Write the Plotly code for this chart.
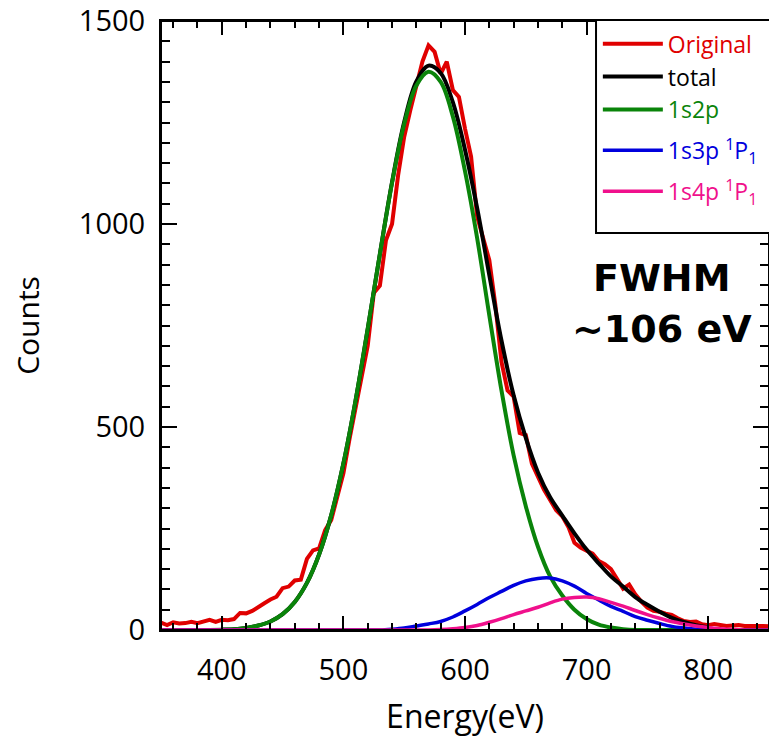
import plotly.graph_objects as go

# ---------------- data ----------------
energy_fine = list(range(350, 851, 5))
original = [18, 12, 19, 16, 17, 20, 17, 22, 25, 20,
            25, 24, 27, 42, 41, 47, 58, 66, 75, 82,
            103, 107, 122, 124, 175, 196, 201, 246, 271, 330,
            386, 470, 545, 625, 700, 830, 848, 960, 1000, 1120,
            1215, 1280, 1345, 1400, 1440, 1424, 1370, 1400, 1330, 1313,
            1235, 1166, 1018, 960, 911, 800, 660, 590, 575, 485,
            480, 410, 375, 345, 320, 295, 280, 254, 215, 203,
            195, 188, 170, 162, 150, 125, 102, 112, 88, 70,
            55, 47, 45, 40, 37, 29, 22, 20, 21, 14,
            12, 15, 13, 10, 11, 12, 10, 9, 10, 10, 9]

energy = list(range(350, 851, 10))
comp_1s2p = [0, 0, 0, 0, 0, 0.5, 2, 5, 11, 21,
             39, 69, 116, 186, 283, 410, 565, 742, 926, 1101,
             1246, 1341, 1375, 1350, 1265, 1130, 965, 775, 590, 430,
             305, 205, 132, 85, 50, 27, 13, 6, 2, 0,
             0, 0, 0, 0, 0, 0, 0, 0, 0, 0, 0]
comp_1s3p = [0, 0, 0, 0, 0, 0, 0, 0, 0, 0,
             0, 0, 0, 0, 0, 0, 0, 0, 0, 2,
             5, 10, 15, 21, 32, 47, 63, 80, 95, 110,
             121, 127, 128, 121, 108, 90, 74, 58, 46, 33,
             24, 16, 9, 5, 2, 1, 0, 0, 0, 0, 0]
comp_1s4p = [0, 0, 0, 0, 0, 0, 0, 0, 0, 0,
             0, 0, 0, 0, 0, 0, 0, 0, 0, 0,
             0, 0, 0, 1, 3, 6, 11, 19, 28, 38,
             47, 56, 67, 76, 80, 81, 77, 68, 59, 48,
             38, 29, 21, 15, 10, 6, 3, 1, 0, 0, 0]

energy_total = list(range(400, 801, 10))
total = [1, 2, 5, 11, 21, 39, 69, 116, 186, 283,
         410, 565, 742, 926, 1103, 1251, 1351, 1390, 1372, 1300,
         1183, 1039, 874, 713, 578, 473, 388, 327, 282, 238,
         198, 164, 132, 107, 81, 62, 45, 30, 20, 12, 7]

x_ticks = [400, 500, 600, 700, 800]
y_ticks = [0, 500, 1000, 1500]

FONT = "Open Sans"
BOLD_FONT = "DejaVu Sans"
C_RED, C_BLACK, C_GREEN, C_BLUE, C_PINK = "#e00000", "#000000", "#0a840a", "#0000dd", "#f0108c"


def lab(text, col):
    return f'<span style="color:{col}">{text}</span>'


fig = go.Figure()
fig.add_trace(go.Scatter(x=energy_fine, y=original, mode="lines",
                         line=dict(color=C_RED, width=4), legendgroup="a",
                         name=lab("Original", C_RED)))
fig.add_trace(go.Scatter(x=energy_total, y=total, mode="lines",
                         line=dict(color=C_BLACK, width=4, shape="spline"), legendgroup="a",
                         name=lab("total", C_BLACK)))
fig.add_trace(go.Scatter(x=energy, y=comp_1s2p, mode="lines",
                         line=dict(color=C_GREEN, width=4, shape="spline"), legendgroup="a",
                         name=lab("1s2p", C_GREEN)))
fig.add_trace(go.Scatter(x=energy, y=comp_1s3p, mode="lines",
                         line=dict(color=C_BLUE, width=3.5, shape="spline"), legendgroup="b",
                         name=lab("1s3p <sup>1</sup>P<sub>1</sub>", C_BLUE)))
fig.add_trace(go.Scatter(x=energy, y=comp_1s4p, mode="lines",
                         line=dict(color=C_PINK, width=3.5, shape="spline"), legendgroup="c",
                         name=lab("1s4p <sup>1</sup>P<sub>1</sub>", C_PINK)))

axis_common = dict(showline=True, linecolor="black", linewidth=2, mirror="ticks",
                   ticks="inside", tickcolor="black", tickwidth=2,
                   showgrid=False, zeroline=False, automargin=False,
                   ticklabeloverflow="allow",
                   tickfont=dict(family=FONT, size=29, color="black"))

fig.update_xaxes(range=[350, 850], tickvals=x_ticks, ticklen=14,
                 minor=dict(dtick=20, ticks="inside", ticklen=7, tickcolor="black", tickwidth=2),
                 ticklabelstandoff=13,
                 title=dict(text="Energy(eV)", font=dict(family=FONT, size=32, color="black"), standoff=19),
                 **axis_common)
fig.update_yaxes(range=[0, 1500], tickvals=y_ticks, ticklen=16,
                 minor=dict(dtick=50, ticks="inside", ticklen=9, tickcolor="black", tickwidth=2),
                 ticklabelstandoff=8,
                 title=dict(text="Counts", font=dict(family=FONT, size=30, color="black"), standoff=30),
                 **axis_common)

fig.add_annotation(x=762, y=867, xref="x", yref="y", text="<b>FWHM</b>", showarrow=False,
                   font=dict(family=BOLD_FONT, size=38, color="black"))
fig.add_annotation(x=762, y=741, xref="x", yref="y", text="<b>~106 eV</b>", showarrow=False,
                   font=dict(family=BOLD_FONT, size=38, color="black"))

# plot frame (top / right edges)
fig.add_shape(type="rect", xref="paper", yref="paper", x0=0, x1=1, y0=0, y1=1,
              line=dict(color="black", width=2), fillcolor="rgba(0,0,0,0)", layer="above")
# legend frame (box runs past the right edge as in the reference)
fig.add_shape(type="rect", xref="paper", yref="paper",
              x0=0.7155, x1=1.03, y0=0.652, y1=1.0016,
              line=dict(color="black", width=2), fillcolor="white", layer="above")

fig.update_layout(
    width=769, height=738,
    margin=dict(l=161, r=0, t=21, b=108, autoexpand=False),
    paper_bgcolor="white", plot_bgcolor="white",
    legend=dict(x=0.7185, y=0.998, xanchor="left", yanchor="top",
                bgcolor="rgba(0,0,0,0)", borderwidth=0,
                font=dict(family=FONT, size=23, color="black"),
                itemwidth=60, tracegroupgap=8, valign="top"),
    showlegend=True,
)

# remove the default page margin so the figure fills the window exactly
fig.write_html("out.html", config={"displayModeBar": False},
               post_script="document.body.style.margin='0';document.body.style.overflow='hidden';")
